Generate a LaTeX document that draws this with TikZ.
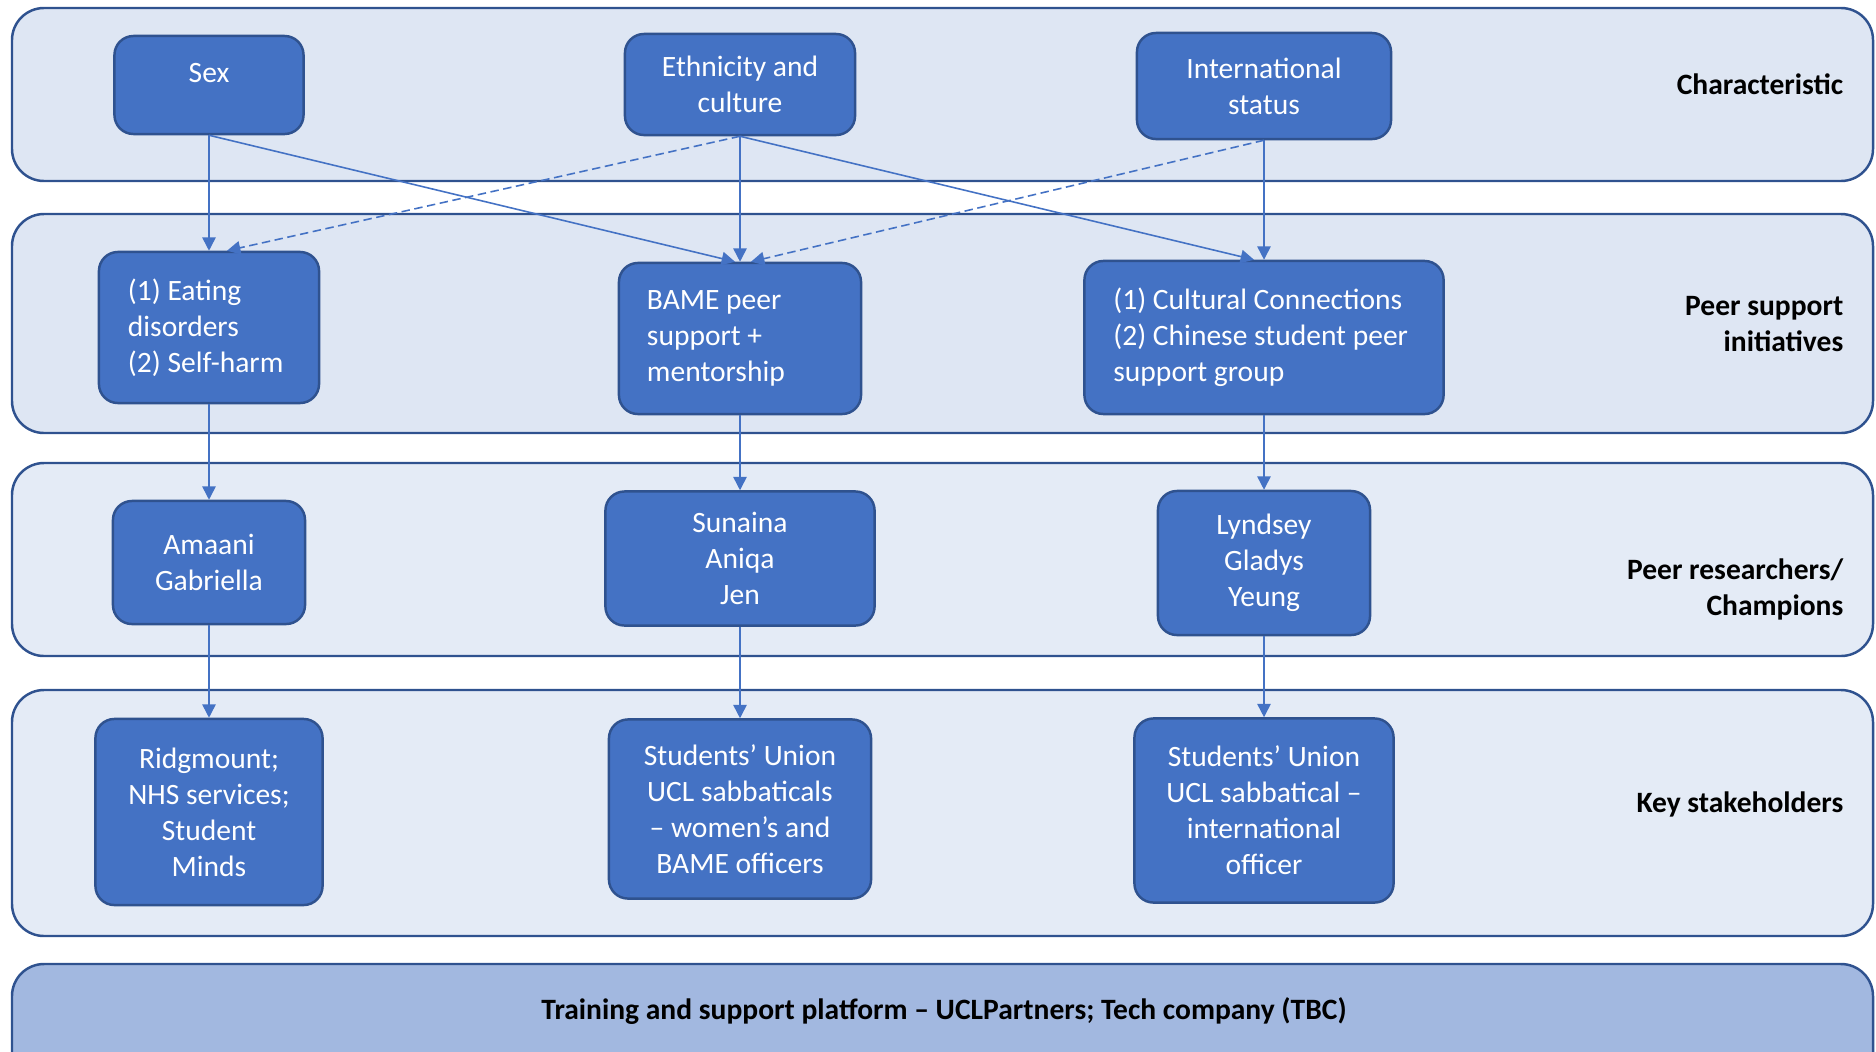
\documentclass[tikz,border=0pt]{standalone}
\usepackage{fontspec}
\setmainfont{Carlito}
\usetikzlibrary{calc,arrows.meta}
\definecolor{boxblue}{HTML}{4472C4}
\definecolor{edgeblue}{HTML}{2F528F}
\definecolor{laneA}{HTML}{DEE6F3}
\definecolor{laneB}{HTML}{E4EBF6}
\definecolor{barblue}{HTML}{A2B8E0}
\begin{document}
\begin{tikzpicture}[x=0.01cm,y=-0.01cm,
  lane/.style={draw=edgeblue, line width=0.7pt, rounded corners=0.32cm},
  box/.style={draw=edgeblue, fill=boxblue, text=white, line width=0.7pt, rounded corners=0.19cm, font=\fontsize{8.4}{10.24}\selectfont, align=center, inner sep=0pt},
  lbox/.style={box, align=flush left, inner xsep=0.29cm},
  tag/.style={anchor=east, align=right, inner sep=0pt, font=\fontsize{8.4}{10.24}\selectfont\bfseries},
  link/.style={draw=boxblue, line width=0.45pt, -{Triangle[length=3.8pt,width=3.8pt]}},
  dlink/.style={link, dash pattern=on 2.4pt off 1.3pt}]
\useasboundingbox (0,0) rectangle (1876,1051);
\clip (0,0) rectangle (1876,1051);
\draw[lane, fill=laneA] (12,8) rectangle (1873,181);
\draw[lane, fill=laneA] (12,214) rectangle (1873,433);
\draw[lane, fill=laneB] (12,463) rectangle (1873,656);
\draw[lane, fill=laneB] (12,690) rectangle (1873,936);
\draw[lane, fill=barblue] (12,964) rectangle (1873,1090);
\node[tag] (tchar) at (1844,84) {Characteristic};
\node[tag] (tpeer) at (1844,324) {Peer support\\initiatives};
\node[tag] (tres) at (1844,589) {Peer researchers/\\Champions};
\node[tag] (tkey) at (1844,804) {Key stakeholders};
\node[font=\fontsize{8.4}{10.24}\selectfont\bfseries] (plat) at (944,1011) {Training and support platform -- UCLPartners; Tech company (TBC)};
\node[box, minimum width=1.89cm, minimum height=0.98cm] (sex) at (209,85) {Sex\\[-0.12cm]~};
\node[box, minimum width=2.30cm, minimum height=1.01cm] (eth) at (740,84.5) {Ethnicity and\\culture};
\node[box, minimum width=2.54cm, minimum height=1.06cm] (intl) at (1264,86) {International\\status};
\node[lbox, text width=1.62cm, minimum height=1.51cm] (eat) at (209,327.5) {(1) Eating\\disorders\\(2) Self-harm};
\node[lbox, text width=1.86cm, minimum height=1.51cm, inner xsep=0.28cm] (bame) at (740,338.5) {BAME peer\\support +\\mentorship};
\node[lbox, text width=3.01cm, minimum height=1.53cm] (cul) at (1264,337.5) {(1) Cultural Connections\\(2) Chinese student peer\\support group};
\node[box, minimum width=1.92cm, minimum height=1.23cm] (ama) at (209,562.5) {Amaani\\Gabriella};
\node[box, minimum width=2.69cm, minimum height=1.34cm] (sun) at (740,558.5) {Sunaina\\Aniqa\\Jen};
\node[box, minimum width=2.12cm, minimum height=1.44cm] (lyn) at (1264,563) {Lyndsey\\Gladys\\Yeung};
\node[box, minimum width=2.27cm, minimum height=1.86cm] (rid) at (209,812) {Ridgmount;\\NHS services;\\Student\\Minds};
\node[box, minimum width=2.62cm, minimum height=1.79cm] (suA) at (740,809) {Students’ Union\\UCL sabbaticals\\-- women’s and\\BAME officers};
\node[box, minimum width=2.59cm, minimum height=1.84cm] (suB) at (1264,810.5) {Students’ Union\\UCL sabbatical --\\international\\officer};
\draw[link] (sex.south) -- (eat.north);
\draw[link] (sex.south) -- ($(bame.north)+(-5,0)$);
\draw[dlink] (eth.south) -- ($(eat.north)+(18,0)$);
\draw[link] (eth.south) -- (bame.north);
\draw[link] (eth.south) -- ($(cul.north)+(-10,0)$);
\draw[dlink] (intl.south) -- ($(bame.north)+(11,0)$);
\draw[link] (intl.south) -- (cul.north);
\foreach \a/\b in {eat/ama, bame/sun, cul/lyn, ama/rid, sun/suA, lyn/suB}
  \draw[link] (\a.south) -- (\b.north);
\end{tikzpicture}
\end{document}
